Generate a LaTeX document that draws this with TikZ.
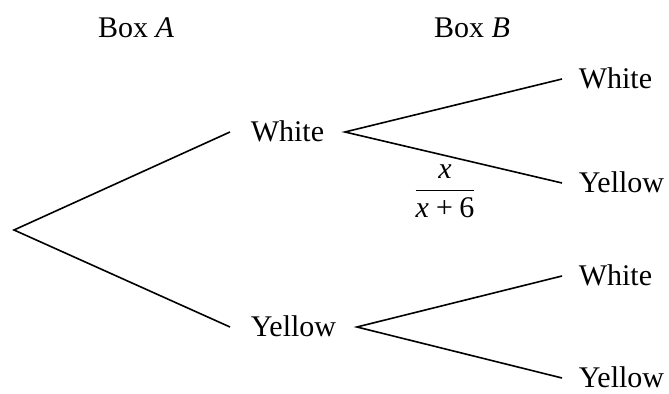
\documentclass[tikz,border=0pt]{standalone}
\usepackage{amsmath}
\usepackage{fontspec}
\setmainfont{Liberation Serif}
\usepackage{tikz}

\begin{document}
\begin{tikzpicture}[x=0.5pt, y=-0.5pt, line width=0.8pt,
  lbl/.style={inner xsep=10pt, inner ysep=0pt, text height=10pt, text depth=0pt, font=\fontsize{15}{18}\selectfont},
  leaf/.style={lbl, anchor=west, inner xsep=8pt}]
\useasboundingbox (0,0) rectangle (669,394);
\node[lbl] (boxA) at (136,28) {Box \textit{A}};
\node[lbl] (boxB) at (472,28) {Box \textit{B}};

\coordinate (root) at (14,230);
\node[lbl, anchor=west] (W) at (230,132) {White};
\node[lbl, anchor=west] (Y) at (230,327) {Yellow};

\node[leaf] (WW) at (562,79) {White};
\node[leaf] (WY) at (562,183) {Yellow};
\node[leaf] (YW) at (562,276) {White};
\node[leaf] (YY) at (562,378) {Yellow};

\draw (W.west)--(root)--(Y.west);
\draw (WW.west)--(W.east)--(WY.west);
\draw (YW.west)--(Y.east)--(YY.west);

\node[font=\fontsize{15}{18}\selectfont] (p) at (445,191) {$\dfrac{\text{\itshape x}}{\text{\itshape x\,+\,\upshape 6}}$};
\end{tikzpicture}
\end{document}
